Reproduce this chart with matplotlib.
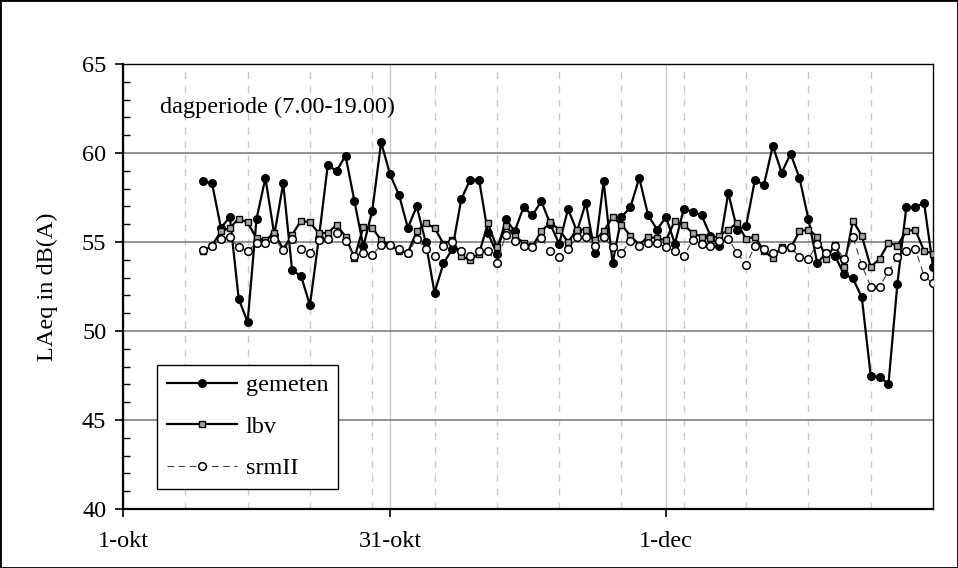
import datetime as dt
import matplotlib
matplotlib.use("Agg")
import matplotlib.pyplot as plt
from matplotlib.patches import Rectangle
from matplotlib.ticker import FixedLocator, MultipleLocator

# daily values, 10-okt up to 31-dec
first_day = dt.date(2003, 10, 10)

gemeten = [58.4, 58.3, 55.8, 56.4, 51.8, 50.5, 56.3, 58.6, 55.4, 58.3,
           53.4, 53.1, 51.45, 55.2, 59.3, 59.0, 59.85, 57.3, 54.75, 56.75,
           60.6, 58.8, 57.65, 55.8, 57.0, 55.0, 52.15, 53.8, 54.6, 57.4,
           58.5, 58.5, 55.5, 54.35, 56.3, 55.6, 56.95, 56.5, 57.3, 56.0,
           54.9, 56.85, 55.6, 57.2, 54.4, 58.4, 53.8, 56.4, 56.95, 58.6,
           56.5, 55.7, 56.4, 54.9, 56.85, 56.7, 56.5, 55.35, 54.75, 57.75,
           55.7, 55.9, 58.5, 58.2, 60.4, 58.9, 59.95, 58.6, 56.3, 53.8,
           54.4, 54.2, 53.2, 52.95, 51.9, 47.5, 47.4, 47.05, 52.65, 56.95,
           56.95, 57.2, 53.6]

lbv = [54.5, 54.8, 55.6, 55.8, 56.3, 56.1, 55.2, 55.1, 55.5, 54.6,
       55.4, 56.2, 56.1, 55.5, 55.5, 55.97, 55.3, 54.1, 55.85, 55.8,
       55.1, 54.85, 54.5, 54.4, 55.6, 56.05, 55.8, 54.9, 55.1, 54.2,
       54.0, 54.35, 56.05, 54.7, 55.9, 55.35, 54.95, 54.75, 55.6, 56.1,
       55.7, 55.0, 55.7, 55.7, 55.1, 55.6, 56.4, 55.97, 55.35, 54.85,
       55.3, 55.2, 55.1, 56.2, 55.97, 55.5, 55.3, 55.2, 55.35, 55.7,
       56.05, 55.17, 55.3, 54.5, 54.1, 54.7, 54.65, 55.6, 55.7, 55.3,
       54.05, 54.85, 53.6, 56.2, 55.35, 53.6, 54.05, 54.95, 54.8, 55.6,
       55.7, 54.5, 54.35]

srmII = [54.57, 54.8, 55.17, 55.26, 54.7, 54.5, 54.94, 54.94, 55.17, 54.57,
         55.17, 54.6, 54.4, 55.1, 55.17, 55.5, 55.04, 54.2, 54.4, 54.25,
         54.85, 54.85, 54.6, 54.4, 55.17, 54.6, 54.2, 54.8, 54.98, 54.5,
         54.2, 54.5, 54.5, 53.8, 55.4, 55.04, 54.8, 54.7, 55.24, 54.5,
         54.16, 54.6, 55.26, 55.26, 54.8, 55.28, 54.7, 54.4, 55.04, 54.8,
         54.94, 54.94, 54.7, 54.5, 54.2, 55.1, 54.9, 54.8, 55.04, 55.17,
         54.4, 53.7, 54.8, 54.6, 54.4, 54.6, 54.7, 54.16, 54.05, 54.9,
         54.4, 54.8, 54.05, 55.28, 53.7, 52.5, 52.5, 53.36, 54.16, 54.5,
         54.6, 53.1, 52.67]

dates = [first_day + dt.timedelta(days=i) for i in range(len(gemeten))]

x_start = dt.date(2003, 10, 1)
x_end = dt.date(2003, 12, 31)
tick_dates = [dt.date(2003, 10, 1), dt.date(2003, 10, 31), dt.date(2003, 12, 1)]
tick_labels = ["1-okt", "31-okt", "1-dec"]

plt.rcParams["font.family"] = ["Liberation Serif", "DejaVu Serif"]
plt.rcParams["font.size"] = 17.5

fig = plt.figure(figsize=(9.58, 5.68), dpi=100)
ax = fig.add_axes([123 / 958, 59 / 568, 810 / 958, 445 / 568])

ax.plot(dates, gemeten, color="black", lw=1.6, marker="o", ms=5.5,
        mfc="black", mec="black", label="gemeten", zorder=3)
ax.plot(dates, lbv, color="black", lw=1.6, marker="s", ms=5,
        mfc="#a6a6a6", mec="black", mew=1.0, label="lbv", zorder=4)
ax.plot(dates, srmII, color="#404040", lw=0.8, ls=(0, (6, 4)), marker="o", ms=5.5,
        mfc="white", mec="black", mew=1.1, label="srmII", zorder=5)

ax.set_xlim(matplotlib.dates.date2num(x_start), matplotlib.dates.date2num(x_end))
ax.set_ylim(40, 65)
ax.set_xticks(matplotlib.dates.date2num(tick_dates))
ax.set_xticklabels(tick_labels)
week_lines = matplotlib.dates.date2num([x_start + dt.timedelta(days=7 * k) for k in range(1, 13)])
ax.xaxis.set_minor_locator(FixedLocator(week_lines))
ax.yaxis.set_major_locator(MultipleLocator(5))
ax.yaxis.set_minor_locator(MultipleLocator(1))

ax.tick_params(axis="both", which="major", direction="out", length=6, width=1.2, pad=6)
ax.tick_params(axis="x", which="major", pad=10)
ax.tick_params(axis="y", which="minor", direction="in", length=5, width=1)
ax.tick_params(axis="x", which="minor", length=0)

ax.grid(axis="y", which="major", color="#808080", lw=1.2)
ax.grid(axis="x", which="major", color="#c8c8c8", lw=1)
ax.grid(axis="x", which="minor", color="#c8c8c8", lw=1, ls=(0, (5, 5)))
ax.set_axisbelow(True)

for side in ["left", "bottom"]:
    ax.spines[side].set_linewidth(1.6)
for side in ["top", "right"]:
    ax.spines[side].set_linewidth(1.0)

ax.set_ylabel("LAeq in dB(A)", labelpad=17)
ax.text(0.046, 0.903, "dagperiode (7.00-19.00)", transform=ax.transAxes,
        va="center", ha="left")

leg = ax.legend(loc="lower left", bbox_to_anchor=(0.042, 0.045), borderaxespad=0,
                fancybox=False, edgecolor="black", framealpha=1, handlelength=2.9,
                handletextpad=0.35, labelspacing=0.8, borderpad=0.4, numpoints=1)
leg.get_frame().set_linewidth(1.0)

fig.patches.append(Rectangle((0, 0), 1, 1, transform=fig.transFigure, fill=False,
                             ec="black", lw=2))

fig.savefig("out.png", dpi=100)
